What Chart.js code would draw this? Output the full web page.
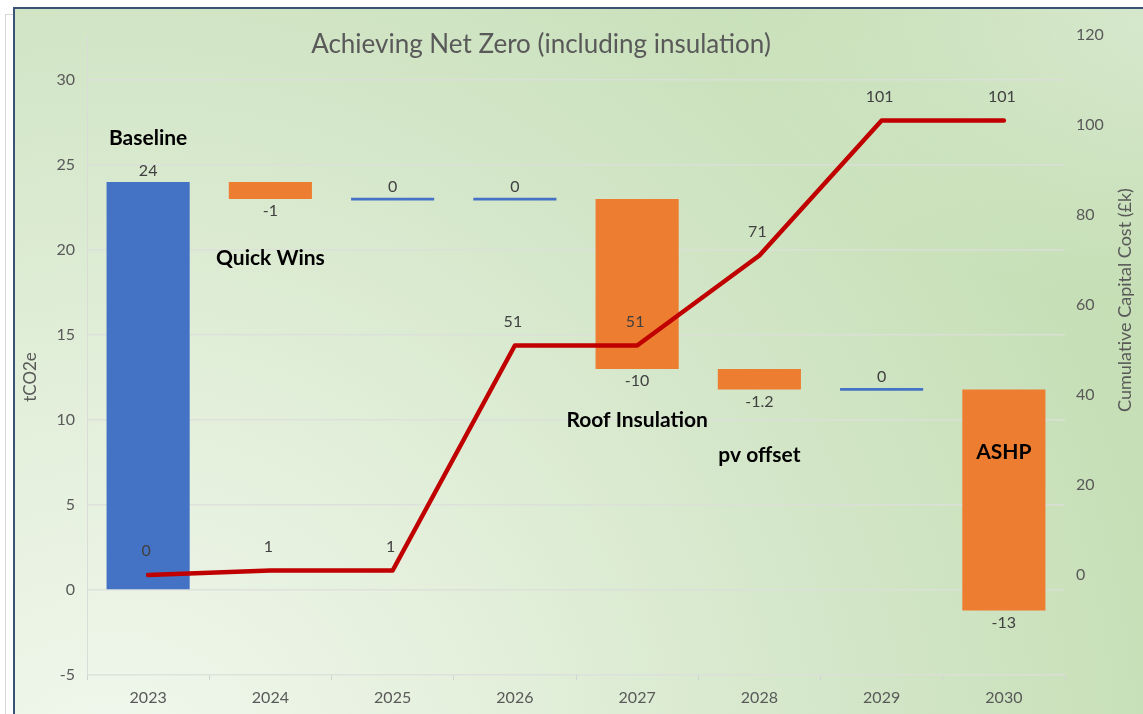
<!DOCTYPE html>
<html>
<head>
<meta charset="utf-8">
<script src="https://cdn.jsdelivr.net/npm/chart.js@4"></script>
<style>
  html, body { margin: 0; padding: 0; background: #fff; overflow: hidden; }
  #outer { position: absolute; left: 5px; top: 14px; width: 1200px; height: 800px;
           border-left: 1px solid #d6d6d6; border-top: 1px solid #d6d6d6; }
  #frame { position: absolute; left: 13px; top: 7px; width: 1200px; height: 800px;
           border-left: 2px solid #3b5277; border-top: 2px solid #3b5277;
           background:
             radial-gradient(ellipse 500px 300px at 100% 0%, rgba(222,236,214,0.8), rgba(222,236,214,0) 100%),
             radial-gradient(circle at 8% 100%, #f3f8ef 0%, #e3efdb 30%, #d3e6c8 55%, #c6dfb6 80%, #c3ddb2 100%);
  }
  #wrap { position: absolute; left: 0; top: 0; width: 1143px; height: 714px; }
</style>
</head>
<body>
<div id="outer"></div>
<div id="frame"></div>
<div id="wrap"><canvas id="netZero" width="1143" height="714"></canvas></div>
<script>
const years = ['2023', '2024', '2025', '2026', '2027', '2028', '2029', '2030'];
const changes = [24, -1, 0, 0, -10, -1.2, 0, -13];
const capital = [0, 1, 1, 51, 51, 71, 101, 101];
const notes = ['Baseline', 'Quick Wins', '', '', 'Roof Insulation', 'pv offset', '', 'ASHP'];
const noteLevels = [26.6, 19.5, null, null, 10.0, 7.9, null, 8.1];

// waterfall ranges
let level = 0;
const ranges = changes.map(function (d) {
    const start = level;
    level = level + d;
    if (d === 0) return [level - 0.08, level + 0.08];
    return [start, level];
});
const barColours = changes.map(d => d < 0 ? '#ed7d31' : '#4472c4');

const txt = '#595959';
const font = 'Lato, "Open Sans", sans-serif';

const labelsPlugin = {
    id: 'labels',
    afterDatasetsDraw(chart) {
        const c = chart.ctx;
        const xs = chart.scales.x, ys = chart.scales.y;
        c.save();
        c.font = '16px ' + font;
        c.fillStyle = '#404040';
        c.textAlign = 'center';
        c.textBaseline = 'middle';
        // bar labels
        const bars = chart.getDatasetMeta(1).data;
        bars.forEach(function (b, i) {
            const top = Math.min(b.y, b.base), bottom = Math.max(b.y, b.base);
            const d = changes[i];
            if (d < 0) c.fillText(String(d), b.x, bottom + 12);
            else c.fillText(String(d), b.x, top - 11);
        });
        // line labels
        const pts = chart.getDatasetMeta(0).data;
        pts.forEach(function (p, i) {
            c.fillText(String(capital[i]), p.x - 2, p.y - 24);
        });
        // step notes
        c.font = 'bold 21px ' + font;
        c.fillStyle = '#000';
        notes.forEach(function (n, i) {
            if (!n) return;
            c.fillText(n, xs.getPixelForValue(i), ys.getPixelForValue(noteLevels[i]));
        });
        // title
        c.font = '26px ' + font;
        c.fillStyle = txt;
        c.fillText('Achieving Net Zero (including insulation)', 541, 45);
        // axis titles
        c.save();
        c.font = '17px ' + font;
        c.translate(31, 377);
        c.rotate(-Math.PI / 2);
        c.fillText('tCO2e', 0, 0);
        c.restore();
        c.save();
        c.font = '18px ' + font;
        c.translate(1125, 300);
        c.rotate(-Math.PI / 2);
        c.fillText('Cumulative Capital Cost (£k)', 0, 0);
        c.restore();
        c.restore();
    }
};

new Chart(document.getElementById('netZero'), {
    type: 'bar',
    data: {
        labels: years,
        datasets: [{
            type: 'line',
            label: 'Cumulative Capital Cost',
            data: capital,
            yAxisID: 'y1',
            borderColor: '#c00000',
            borderWidth: 4.5,
            pointRadius: 0,
            tension: 0,
            borderJoinStyle: 'round',
            borderCapStyle: 'round',
            order: 1
        }, {
            label: 'tCO2e',
            data: ranges,
            yAxisID: 'y',
            backgroundColor: barColours,
            borderWidth: 0,
            categoryPercentage: 1,
            barPercentage: 0.68,
            order: 2
        }]
    },
    options: {
        responsive: false,
        animation: false,
        layout: { padding: { top: 35, left: 0, right: 0, bottom: 0 } },
        plugins: {
            legend: { display: false },
            tooltip: { enabled: false }
        },
        scales: {
            x: {
                afterFit(s) { s.height = 39; },
                grid: { drawOnChartArea: false, tickLength: 5, color: '#d0d4ce', offset: true },
                border: { display: false },
                ticks: { color: txt, font: { family: font, size: 16 }, padding: 8 }
            },
            y: {
                position: 'left',
                min: -5,
                max: 32.65,
                afterFit(s) { s.width = 87; },
                grid: { color: 'rgba(220,222,218,0.85)', lineWidth: 1.5, drawTicks: false },
                border: { display: true, color: 'rgba(215,218,213,0.9)' },
                ticks: { stepSize: 5, includeBounds: false, color: txt, font: { family: font, size: 16 }, padding: 12 }
            },
            y1: {
                position: 'right',
                min: -22.22,
                max: 120,
                afterFit(s) { s.width = 78; },
                afterBuildTicks(s) { s.ticks = s.ticks.filter(t => t.value >= 0); },
                grid: { display: false, drawTicks: false },
                border: { display: false },
                ticks: { stepSize: 20, includeBounds: false, color: txt, font: { family: font, size: 16 }, padding: 11 }
            }
        }
    },
    plugins: [labelsPlugin]
});
</script>
</body>
</html>
